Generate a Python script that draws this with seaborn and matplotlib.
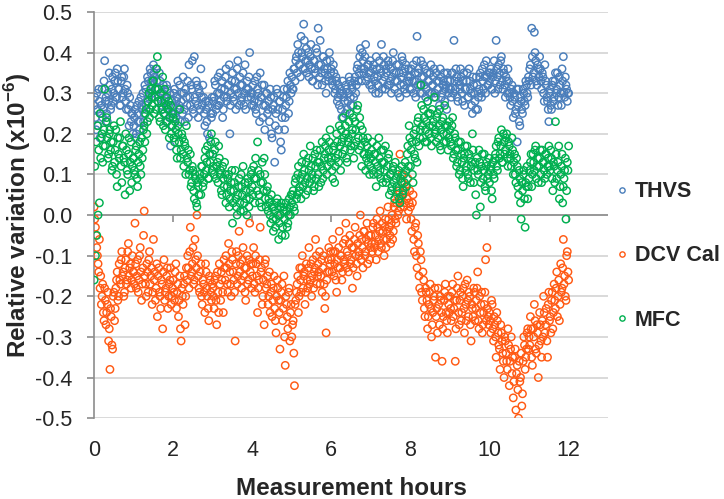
import numpy as np
import pandas as pd
import matplotlib
matplotlib.use('Agg')
import matplotlib.pyplot as plt
import seaborn as sns
from matplotlib.lines import Line2D

# relative variation (x10^-6), readings at even minutes (30 per hour) ...
thvs = [
    0.27, 0.24, 0.30, 0.22, 0.28, 0.25, 0.31, 0.26, 0.38, 0.29, 0.23, 0.28, 0.32, 0.27, 0.34, 0.30, 0.35, 0.29, 0.33, 0.31, 0.27, 0.34, 0.30, 0.36, 0.28, 0.32, 0.26, 0.29, 0.23, 0.25,
    0.22, 0.26, 0.20, 0.25, 0.28, 0.23, 0.27, 0.30, 0.25, 0.31, 0.28, 0.33, 0.30, 0.35, 0.32, 0.37, 0.34, 0.36, 0.31, 0.29, 0.33, 0.27, 0.30, 0.25, 0.29, 0.32, 0.26, 0.24, 0.17, 0.28,
    0.27, 0.31, 0.24, 0.29, 0.26, 0.32, 0.28, 0.25, 0.30, 0.23, 0.29, 0.33, 0.37, 0.27, 0.31, 0.26, 0.39, 0.28, 0.32, 0.24, 0.30, 0.36, 0.27, 0.29, 0.22, 0.26, 0.20, 0.28, 0.15, 0.24,
    0.25, 0.29, 0.32, 0.27, 0.34, 0.30, 0.28, 0.33, 0.26, 0.31, 0.36, 0.29, 0.32, 0.20, 0.30, 0.35, 0.28, 0.33, 0.31, 0.38, 0.27, 0.32, 0.29, 0.35, 0.30, 0.26, 0.33, 0.31, 0.40, 0.29,
    0.30, 0.27, 0.33, 0.25, 0.31, 0.28, 0.35, 0.29, 0.24, 0.32, 0.27, 0.30, 0.26, 0.23, 0.29, 0.19, 0.27, 0.13, 0.25, 0.30, 0.21, 0.28, 0.16, 0.26, 0.31, 0.24, 0.29, 0.33, 0.28, 0.32,
    0.34, 0.31, 0.36, 0.38, 0.35, 0.40, 0.37, 0.44, 0.39, 0.47, 0.36, 0.41, 0.38, 0.34, 0.39, 0.36, 0.33, 0.38, 0.35, 0.40, 0.46, 0.34, 0.37, 0.32, 0.39, 0.35, 0.30, 0.36, 0.33, 0.38,
    0.36, 0.32, 0.35, 0.31, 0.33, 0.29, 0.27, 0.31, 0.24, 0.30, 0.28, 0.32, 0.26, 0.30, 0.33, 0.27, 0.31, 0.29, 0.34, 0.32, 0.37, 0.35, 0.41, 0.33, 0.38, 0.36, 0.42, 0.34, 0.37, 0.32,
    0.35, 0.31, 0.37, 0.33, 0.39, 0.34, 0.30, 0.36, 0.42, 0.33, 0.37, 0.31, 0.35, 0.38, 0.32, 0.36, 0.34, 0.40, 0.31, 0.35, 0.33, 0.37, 0.29, 0.34, 0.38, 0.32, 0.36, 0.30, 0.34, 0.33,
    0.34, 0.31, 0.37, 0.33, 0.29, 0.44, 0.35, 0.32, 0.38, 0.30, 0.34, 0.36, 0.31, 0.28, 0.33, 0.35, 0.30, 0.32, 0.36, 0.29, 0.33, 0.31, 0.27, 0.34, 0.30, 0.33, 0.28, 0.32, 0.35, 0.30,
    0.33, 0.29, 0.35, 0.43, 0.31, 0.34, 0.28, 0.32, 0.36, 0.30, 0.33, 0.27, 0.31, 0.35, 0.29, 0.33, 0.30, 0.25, 0.32, 0.28, 0.34, 0.26, 0.31, 0.35, 0.29, 0.33, 0.37, 0.30, 0.34, 0.32,
    0.33, 0.36, 0.31, 0.35, 0.30, 0.43, 0.34, 0.37, 0.32, 0.39, 0.31, 0.35, 0.29, 0.33, 0.36, 0.30, 0.27, 0.32, 0.24, 0.29, 0.26, 0.18, 0.31, 0.22, 0.28, 0.25, 0.30, 0.27, 0.32, 0.29,
    0.33, 0.37, 0.46, 0.34, 0.45, 0.38, 0.32, 0.36, 0.39, 0.33, 0.35, 0.30, 0.37, 0.32, 0.28, 0.23, 0.31, 0.26, 0.33, 0.29, 0.35, 0.31, 0.27, 0.34, 0.30, 0.36, 0.39, 0.29, 0.32, 0.28,
    0.30,
]

dcv_cal = [
    0.02, -0.03, -0.08, -0.12, -0.06, -0.15, -0.20, -0.24, -0.18, -0.27, -0.22, -0.31, -0.38, -0.25, -0.33, -0.19, -0.23, -0.16, -0.21, -0.12, -0.17, -0.09, -0.14, -0.19, -0.11, -0.16, -0.07, -0.13, -0.18, -0.10,
    -0.14, -0.02, -0.18, -0.11, -0.16, -0.08, -0.21, -0.13, 0.01, -0.17, -0.12, -0.19, -0.09, -0.15, -0.22, -0.06, -0.14, -0.18, -0.25, -0.13, -0.20, -0.16, -0.28, -0.11, -0.19, -0.15, -0.23, -0.17, -0.13, -0.20,
    -0.16, -0.21, -0.12, -0.19, -0.25, -0.15, -0.31, -0.20, -0.17, -0.27, -0.13, -0.10, -0.18, -0.03, -0.14, -0.08, -0.16, -0.11, 0.00, -0.15, -0.19, -0.12, -0.22, -0.17, -0.24, -0.14, -0.20, -0.26, -0.16, -0.21,
    -0.18, -0.23, -0.15, -0.27, -0.19, -0.12, -0.21, -0.16, -0.24, -0.13, -0.10, -0.17, -0.07, -0.14, -0.20, -0.11, -0.16, -0.31, -0.09, -0.15, -0.04, -0.12, -0.18, -0.08, -0.13, -0.21, -0.10, -0.16, -0.02, -0.12,
    -0.15, -0.08, -0.19, -0.12, -0.24, -0.16, -0.03, -0.13, -0.20, -0.27, -0.11, -0.17, -0.22, -0.14, -0.19, -0.25, -0.18, -0.23, -0.29, -0.16, -0.21, -0.33, -0.19, -0.26, -0.15, -0.37, -0.22, -0.28, -0.18, -0.24,
    -0.30, -0.26, -0.42, -0.21, -0.17, -0.24, -0.13, -0.19, -0.10, -0.15, -0.22, -0.12, -0.18, -0.08, -0.16, -0.20, -0.11, -0.14, -0.06, -0.17, -0.12, -0.09, -0.15, -0.19, -0.10, -0.23, -0.29, -0.14, -0.08, -0.12,
    -0.11, -0.06, -0.15, -0.09, -0.19, -0.13, -0.04, -0.10, -0.16, -0.07, -0.12, -0.02, -0.09, -0.14, -0.05, -0.11, -0.18, -0.08, -0.03, -0.12, -0.07, -0.10, 0.00, -0.06, -0.13, -0.04, -0.09, -0.02, -0.07, -0.11,
    -0.05, -0.09, -0.02, -0.07, -0.11, -0.03, -0.06, 0.01, -0.08, -0.04, -0.10, -0.01, -0.06, 0.02, -0.03, -0.07, 0.00, -0.04, 0.03, -0.02, 0.05, 0.01, 0.15, 0.04, 0.08, 0.02, 0.06, -0.01, 0.09, 0.03,
    0.02, -0.04, 0.05, -0.09, -0.02, -0.13, -0.07, -0.18, -0.11, -0.21, -0.16, -0.25, -0.19, -0.28, -0.22, -0.17, -0.30, -0.24, -0.20, -0.35, -0.23, -0.18, -0.27, -0.21, -0.36, -0.25, -0.19, -0.24, -0.29, -0.22,
    -0.20, -0.26, -0.17, -0.23, -0.36, -0.21, -0.15, -0.27, -0.19, -0.24, -0.18, -0.29, -0.22, -0.16, -0.25, -0.20, -0.31, -0.23, -0.18, -0.26, -0.21, -0.14, -0.28, -0.24, -0.19, -0.27, -0.22, -0.11, -0.08, -0.25,
    -0.24, -0.29, -0.22, -0.31, -0.27, -0.35, -0.26, -0.32, -0.38, -0.29, -0.34, -0.40, -0.31, -0.36, -0.28, -0.42, -0.33, -0.39, -0.45, -0.35, -0.48, -0.37, -0.50, -0.41, -0.34, -0.44, -0.30, -0.38, -0.33, -0.28,
    -0.30, -0.25, -0.35, -0.28, -0.22, -0.33, -0.27, -0.40, -0.24, -0.31, -0.26, -0.20, -0.29, -0.23, -0.35, -0.19, -0.25, -0.21, -0.28, -0.17, -0.23, -0.14, -0.20, -0.26, -0.12, -0.18, -0.06, -0.15, -0.21, -0.09,
    -0.16,
]

mfc = [
    -0.16, -0.10, -0.05, 0.00, 0.03, 0.14, 0.20, 0.17, 0.31, 0.23, 0.19, 0.15, 0.21, 0.18, 0.12, 0.22, 0.16, 0.10, 0.19, 0.14, 0.23, 0.08, 0.17, 0.13, 0.20, 0.11, 0.15, 0.06, 0.18, 0.12,
    0.14, 0.10, 0.17, 0.07, 0.15, 0.12, 0.19, 0.16, 0.22, 0.25, 0.20, 0.28, 0.24, 0.31, 0.27, 0.33, 0.29, 0.26, 0.39, 0.31, 0.23, 0.28, 0.34, 0.25, 0.21, 0.29, 0.26, 0.19, 0.27, 0.22,
    0.24, 0.18, 0.21, 0.14, 0.20, 0.26, 0.16, 0.19, 0.12, 0.17, 0.22, 0.13, 0.10, 0.15, 0.08, 0.11, 0.04, 0.09, 0.02, 0.07, 0.10, 0.05, 0.12, 0.08, 0.14, 0.11, 0.17, 0.09, 0.13, 0.20,
    0.15, 0.10, 0.18, 0.12, 0.08, 0.14, 0.11, 0.05, 0.09, 0.13, 0.03, 0.07, 0.10, 0.04, 0.08, -0.02, 0.06, 0.11, 0.02, 0.05, 0.09, 0.01, 0.07, 0.12, 0.03, 0.06, 0.00, 0.08, 0.04, 0.10,
    0.07, 0.12, 0.03, 0.09, 0.18, 0.05, 0.10, 0.02, 0.08, 0.14, 0.04, 0.06, 0.01, 0.03, -0.02, 0.02, -0.04, 0.01, -0.01, 0.04, -0.06, 0.00, 0.03, -0.03, 0.02, -0.05, 0.01, -0.02, 0.04, 0.00,
    0.03, 0.06, 0.01, 0.09, 0.05, 0.12, 0.07, 0.04, 0.10, 0.15, 0.08, 0.13, 0.06, 0.11, 0.17, 0.09, 0.14, 0.07, 0.12, 0.16, 0.10, 0.13, 0.08, 0.18, 0.11, 0.15, 0.19, 0.12, 0.16, 0.21,
    0.14, 0.09, 0.17, 0.12, 0.20, 0.15, 0.22, 0.11, 0.18, 0.24, 0.16, 0.20, 0.13, 0.19, 0.25, 0.17, 0.21, 0.14, 0.23, 0.18, 0.27, 0.16, 0.22, 0.12, 0.19, 0.15, 0.11, 0.17, 0.13, 0.10,
    0.14, 0.18, 0.10, 0.15, 0.07, 0.12, 0.19, 0.11, 0.16, 0.08, 0.13, 0.17, 0.09, 0.14, 0.05, 0.10, 0.07, 0.12, 0.04, 0.09, 0.06, 0.11, 0.03, 0.08, 0.05, 0.10, 0.13, 0.07, 0.17, 0.22,
    0.12, 0.18, 0.08, 0.15, 0.21, 0.13, 0.24, 0.19, 0.32, 0.22, 0.26, 0.18, 0.23, 0.28, 0.20, 0.25, 0.17, 0.22, 0.29, 0.21, 0.24, 0.19, 0.26, 0.16, 0.23, 0.20, 0.27, 0.18, 0.22, 0.19,
    0.21, 0.17, 0.24, 0.15, 0.19, 0.12, 0.16, 0.10, 0.18, 0.13, 0.07, 0.15, 0.11, 0.17, 0.09, 0.14, 0.12, 0.20, 0.08, 0.13, 0.00, 0.11, 0.16, 0.02, 0.12, 0.09, 0.15, 0.06, 0.13, 0.10,
    0.08, 0.12, 0.04, 0.10, 0.14, 0.17, 0.11, 0.19, 0.15, 0.21, 0.13, 0.18, 0.16, 0.20, 0.12, 0.17, 0.14, 0.19, 0.10, 0.15, 0.08, 0.12, 0.05, 0.09, -0.01, 0.06, 0.11, -0.03, 0.07, 0.04,
    0.09, 0.13, 0.07, 0.15, 0.11, 0.17, 0.12, 0.08, 0.14, 0.10, 0.16, 0.13, 0.09, 0.15, 0.12, 0.17, 0.11, 0.14, 0.06, 0.12, 0.23, 0.09, 0.13, 0.04, 0.10, 0.15, 0.07, 0.11, -0.01, 0.13,
    0.17,
]

# ... and readings at odd minutes
thvs_odd = [
    0.29, 0.21, 0.26, 0.31, 0.19, 0.27, 0.24, 0.33, 0.28, 0.25, 0.30, 0.35, 0.26, 0.31, 0.28, 0.33, 0.29, 0.36, 0.31, 0.27, 0.33, 0.29, 0.34, 0.31, 0.26, 0.30, 0.22, 0.27, 0.25, 0.20,
    0.24, 0.19, 0.27, 0.23, 0.21, 0.29, 0.26, 0.23, 0.32, 0.27, 0.34, 0.29, 0.36, 0.33, 0.30, 0.35, 0.31, 0.33, 0.28, 0.35, 0.30, 0.26, 0.32, 0.28, 0.23, 0.31, 0.27, 0.30, 0.25, 0.22,
    0.30, 0.25, 0.28, 0.33, 0.27, 0.23, 0.30, 0.34, 0.26, 0.31, 0.27, 0.24, 0.29, 0.32, 0.38, 0.25, 0.29, 0.33, 0.27, 0.31, 0.26, 0.29, 0.32, 0.25, 0.28, 0.23, 0.27, 0.19, 0.25, 0.29,
    0.28, 0.33, 0.26, 0.30, 0.27, 0.35, 0.31, 0.24, 0.29, 0.34, 0.28, 0.32, 0.37, 0.27, 0.33, 0.29, 0.31, 0.26, 0.36, 0.30, 0.34, 0.28, 0.32, 0.27, 0.37, 0.31, 0.29, 0.34, 0.30, 0.27,
    0.32, 0.28, 0.26, 0.34, 0.30, 0.23, 0.29, 0.32, 0.27, 0.21, 0.30, 0.25, 0.28, 0.31, 0.20, 0.26, 0.29, 0.22, 0.31, 0.26, 0.28, 0.18, 0.24, 0.29, 0.21, 0.27, 0.31, 0.25, 0.35, 0.30,
    0.31, 0.36, 0.33, 0.39, 0.42, 0.37, 0.34, 0.40, 0.36, 0.43, 0.38, 0.35, 0.40, 0.37, 0.42, 0.33, 0.38, 0.36, 0.41, 0.32, 0.37, 0.43, 0.35, 0.39, 0.36, 0.33, 0.38, 0.34, 0.40, 0.35,
    0.33, 0.37, 0.30, 0.34, 0.28, 0.32, 0.30, 0.26, 0.33, 0.29, 0.25, 0.31, 0.28, 0.34, 0.29, 0.32, 0.27, 0.33, 0.30, 0.36, 0.33, 0.39, 0.36, 0.40, 0.35, 0.39, 0.33, 0.37, 0.35, 0.38,
    0.32, 0.36, 0.34, 0.30, 0.36, 0.32, 0.38, 0.35, 0.31, 0.39, 0.34, 0.36, 0.32, 0.37, 0.33, 0.30, 0.38, 0.35, 0.33, 0.37, 0.30, 0.35, 0.32, 0.39, 0.35, 0.31, 0.37, 0.33, 0.36, 0.31,
    0.36, 0.33, 0.30, 0.35, 0.38, 0.32, 0.36, 0.30, 0.34, 0.37, 0.32, 0.29, 0.35, 0.33, 0.30, 0.37, 0.32, 0.34, 0.30, 0.35, 0.31, 0.33, 0.36, 0.29, 0.32, 0.35, 0.31, 0.26, 0.33, 0.31,
    0.31, 0.35, 0.30, 0.33, 0.36, 0.29, 0.33, 0.31, 0.34, 0.28, 0.35, 0.31, 0.33, 0.29, 0.36, 0.31, 0.27, 0.34, 0.30, 0.26, 0.32, 0.29, 0.34, 0.30, 0.36, 0.31, 0.34, 0.38, 0.32, 0.35,
    0.35, 0.31, 0.34, 0.38, 0.33, 0.36, 0.31, 0.35, 0.38, 0.33, 0.36, 0.32, 0.34, 0.30, 0.33, 0.29, 0.31, 0.28, 0.30, 0.25, 0.31, 0.27, 0.23, 0.29, 0.26, 0.31, 0.28, 0.33, 0.30, 0.34,
    0.36, 0.32, 0.39, 0.35, 0.40, 0.33, 0.37, 0.34, 0.36, 0.31, 0.34, 0.28, 0.33, 0.29, 0.26, 0.30, 0.27, 0.32, 0.28, 0.33, 0.30, 0.35, 0.29, 0.32, 0.27, 0.33, 0.30, 0.34, 0.31, 0.30,
]

dcv_cal_odd = [
    -0.01, -0.05, -0.10, -0.14, -0.18, -0.22, -0.17, -0.26, -0.21, -0.24, -0.19, -0.28, -0.23, -0.32, -0.20, -0.26, -0.18, -0.14, -0.20, -0.16, -0.11, -0.15, -0.20, -0.13, -0.17, -0.09, -0.15, -0.12, -0.16, -0.14,
    -0.17, -0.12, -0.15, -0.19, -0.10, -0.14, -0.17, -0.05, -0.15, -0.20, -0.14, -0.11, -0.17, -0.13, -0.19, -0.16, -0.21, -0.12, -0.15, -0.19, -0.23, -0.17, -0.14, -0.21, -0.18, -0.13, -0.20, -0.16, -0.22, -0.18,
    -0.19, -0.14, -0.23, -0.17, -0.21, -0.28, -0.18, -0.22, -0.15, -0.20, -0.16, -0.13, -0.09, -0.15, -0.12, -0.17, -0.06, -0.13, -0.10, -0.18, -0.14, -0.20, -0.16, -0.19, -0.12, -0.18, -0.23, -0.15, -0.19, -0.17,
    -0.20, -0.16, -0.21, -0.14, -0.24, -0.17, -0.14, -0.19, -0.11, -0.16, -0.13, -0.19, -0.12, -0.17, -0.09, -0.14, -0.19, -0.12, -0.17, -0.10, -0.14, -0.16, -0.11, -0.15, -0.19, -0.13, -0.17, -0.11, -0.14, -0.18,
    -0.12, -0.17, -0.10, -0.15, -0.18, -0.11, -0.14, -0.22, -0.16, -0.12, -0.18, -0.15, -0.20, -0.24, -0.17, -0.21, -0.15, -0.26, -0.20, -0.18, -0.24, -0.21, -0.17, -0.23, -0.30, -0.20, -0.25, -0.19, -0.31, -0.22,
    -0.27, -0.34, -0.22, -0.19, -0.15, -0.20, -0.16, -0.13, -0.18, -0.14, -0.19, -0.16, -0.13, -0.17, -0.12, -0.15, -0.18, -0.13, -0.10, -0.15, -0.14, -0.17, -0.11, -0.13, -0.17, -0.20, -0.16, -0.11, -0.14, -0.09,
    -0.14, -0.09, -0.12, -0.16, -0.11, -0.08, -0.13, -0.10, -0.14, -0.11, -0.06, -0.13, -0.10, -0.07, -0.12, -0.08, -0.13, -0.06, -0.10, -0.15, -0.09, -0.05, -0.11, -0.08, -0.04, -0.10, -0.06, -0.12, -0.05, -0.08,
    -0.07, -0.03, -0.08, -0.05, -0.01, -0.09, -0.04, -0.07, -0.02, -0.06, -0.03, -0.08, -0.04, -0.01, -0.05, -0.02, -0.06, 0.02, -0.01, 0.03, 0.00, 0.06, 0.02, 0.10, 0.05, 0.03, 0.07, 0.04, 0.01, 0.06,
    -0.01, 0.03, -0.06, -0.03, -0.10, -0.05, -0.15, -0.09, -0.19, -0.14, -0.23, -0.18, -0.21, -0.25, -0.19, -0.23, -0.27, -0.21, -0.18, -0.25, -0.29, -0.22, -0.20, -0.24, -0.28, -0.21, -0.17, -0.26, -0.20, -0.24,
    -0.23, -0.19, -0.25, -0.21, -0.28, -0.18, -0.24, -0.21, -0.26, -0.20, -0.23, -0.17, -0.26, -0.21, -0.19, -0.27, -0.22, -0.25, -0.19, -0.23, -0.18, -0.26, -0.20, -0.22, -0.29, -0.24, -0.19, -0.26, -0.23, -0.27,
    -0.26, -0.21, -0.28, -0.25, -0.30, -0.24, -0.29, -0.33, -0.27, -0.31, -0.36, -0.30, -0.34, -0.38, -0.32, -0.36, -0.30, -0.35, -0.41, -0.33, -0.39, -0.43, -0.36, -0.40, -0.47, -0.36, -0.32, -0.35, -0.29, -0.33,
    -0.32, -0.28, -0.37, -0.30, -0.26, -0.34, -0.29, -0.32, -0.27, -0.35, -0.30, -0.24, -0.27, -0.31, -0.22, -0.26, -0.29, -0.19, -0.24, -0.21, -0.18, -0.25, -0.16, -0.22, -0.19, -0.13, -0.17, -0.20, -0.10, -0.14,
]

mfc_odd = [
    0.12, 0.18, 0.22, 0.16, 0.25, 0.19, 0.13, 0.21, 0.17, 0.24, 0.14, 0.20, 0.16, 0.11, 0.18, 0.13, 0.21, 0.07, 0.15, 0.19, 0.12, 0.17, 0.14, 0.05, 0.16, 0.10, 0.19, 0.13, 0.08, 0.14,
    0.11, 0.16, 0.09, 0.13, 0.18, 0.10, 0.14, 0.21, 0.18, 0.26, 0.23, 0.30, 0.26, 0.29, 0.33, 0.25, 0.31, 0.36, 0.28, 0.24, 0.30, 0.26, 0.22, 0.31, 0.27, 0.23, 0.28, 0.24, 0.20, 0.25,
    0.19, 0.23, 0.16, 0.22, 0.18, 0.14, 0.20, 0.15, 0.18, 0.10, 0.14, 0.16, 0.11, 0.07, 0.12, 0.06, 0.10, 0.03, 0.08, 0.05, 0.09, 0.12, 0.07, 0.10, 0.16, 0.13, 0.09, 0.15, 0.18, 0.11,
    0.12, 0.16, 0.09, 0.13, 0.17, 0.10, 0.06, 0.12, 0.07, 0.10, 0.05, 0.09, 0.02, 0.06, 0.11, 0.03, 0.08, 0.04, 0.00, 0.07, 0.03, 0.10, 0.05, 0.01, 0.08, 0.04, 0.09, 0.02, 0.06, 0.11,
    0.05, 0.09, 0.14, 0.06, 0.11, 0.03, 0.08, 0.13, 0.06, 0.10, 0.02, 0.07, 0.04, 0.00, 0.05, -0.01, 0.02, -0.03, 0.03, 0.00, -0.02, 0.02, -0.05, 0.01, -0.01, 0.03, -0.03, 0.00, 0.02, 0.05,
    0.05, 0.02, 0.08, 0.04, 0.10, 0.06, 0.09, 0.13, 0.07, 0.11, 0.05, 0.09, 0.14, 0.08, 0.12, 0.10, 0.06, 0.15, 0.09, 0.13, 0.07, 0.16, 0.12, 0.09, 0.14, 0.17, 0.10, 0.14, 0.18, 0.13,
    0.11, 0.16, 0.08, 0.14, 0.18, 0.13, 0.17, 0.21, 0.15, 0.19, 0.22, 0.14, 0.18, 0.23, 0.16, 0.20, 0.24, 0.17, 0.21, 0.26, 0.19, 0.24, 0.17, 0.21, 0.15, 0.18, 0.14, 0.19, 0.15, 0.12,
    0.16, 0.11, 0.15, 0.13, 0.17, 0.10, 0.14, 0.09, 0.13, 0.16, 0.11, 0.08, 0.12, 0.15, 0.10, 0.06, 0.11, 0.08, 0.13, 0.07, 0.10, 0.04, 0.09, 0.12, 0.06, 0.08, 0.11, 0.15, 0.12, 0.19,
    0.16, 0.10, 0.20, 0.14, 0.18, 0.23, 0.17, 0.21, 0.27, 0.19, 0.24, 0.21, 0.18, 0.25, 0.22, 0.19, 0.26, 0.23, 0.20, 0.18, 0.25, 0.22, 0.17, 0.21, 0.24, 0.18, 0.22, 0.20, 0.16, 0.23,
    0.18, 0.22, 0.14, 0.20, 0.16, 0.13, 0.18, 0.11, 0.15, 0.09, 0.14, 0.17, 0.12, 0.10, 0.15, 0.08, 0.13, 0.16, 0.11, 0.05, 0.14, 0.10, 0.13, 0.08, 0.15, 0.11, 0.07, 0.12, 0.09, 0.14,
    0.11, 0.06, 0.13, 0.09, 0.15, 0.12, 0.18, 0.14, 0.17, 0.13, 0.20, 0.15, 0.19, 0.14, 0.18, 0.15, 0.12, 0.16, 0.13, 0.10, 0.14, 0.07, 0.11, 0.03, 0.08, 0.10, 0.04, 0.08, 0.12, 0.07,
    0.11, 0.15, 0.10, 0.13, 0.16, 0.09, 0.14, 0.12, 0.16, 0.08, 0.13, 0.11, 0.15, 0.10, 0.14, 0.12, 0.16, 0.09, 0.13, 0.08, 0.15, 0.11, 0.17, 0.07, 0.12, 0.03, 0.09, 0.14, 0.06, 0.11,
]

series_names = ['THVS', 'DCV Cal', 'MFC']
series_colors = ['#4A7EBB', '#FF5A14', '#00B050']
x_ticks = [0, 2, 4, 6, 8, 10, 12]
y_ticks = [-0.5, -0.4, -0.3, -0.2, -0.1, 0.0, 0.1, 0.2, 0.3, 0.4, 0.5]

frames = []
for name, even, odd in zip(series_names, [thvs, dcv_cal, mfc], [thvs_odd, dcv_cal_odd, mfc_odd]):
    h_even = np.arange(len(even)) / 30          # minute 0, 2, 4, ...
    h_odd = (np.arange(len(odd)) + 0.5) / 30    # minute 1, 3, 5, ...
    frames.append(pd.DataFrame({'hours': np.concatenate([h_even, h_odd]),
                                'value': even + odd, 'series': name}))
df = pd.concat(frames)

sns.set_style('white')
plt.rcParams['font.family'] = ['Liberation Sans', 'DejaVu Sans']
plt.rcParams['axes.unicode_minus'] = False
plt.rcParams['mathtext.fontset'] = 'custom'
plt.rcParams['mathtext.bf'] = 'Liberation Sans:bold'
plt.rcParams['mathtext.rm'] = 'Liberation Sans'

fig = plt.figure(figsize=(7.24, 4.99), dpi=100)
ax = fig.add_axes([0.130, 0.162, 0.710, 0.814])

sns.scatterplot(data=df, x='hours', y='value', hue='series',
                palette=dict(zip(series_names, series_colors)),
                s=28, linewidth=1.05, legend=False, ax=ax, zorder=3)
# open circles
coll = ax.collections[0]
fc = coll.get_facecolors()
coll.set_edgecolors(fc)
coll.set_facecolors('none')

ax.set_xlim(0, 13)
ax.set_ylim(-0.5, 0.5)
ax.set_yticks(y_ticks)
ax.yaxis.set_major_formatter('{x:.1f}')
ax.set_xticks(x_ticks)

ax.yaxis.grid(True, color='#D9D9D9', linewidth=1.4)
ax.xaxis.grid(False)
ax.set_axisbelow(True)

for side in ['top', 'right', 'bottom']:
    ax.spines[side].set_visible(False)
ax.spines['left'].set_color('#8C8C8C')
ax.spines['left'].set_linewidth(1.2)

ax.tick_params(axis='y', direction='out', length=5, width=1.2, color='#8C8C8C',
               labelsize=15.5, pad=11, left=True)
ax.tick_params(axis='x', length=0, labelsize=15.5, pad=16)

# horizontal axis crosses at zero, tick marks hang below it
ax.axhline(0, color='#8C8C8C', linewidth=1.2, zorder=2)
ax.plot(x_ticks, [0] * len(x_ticks), linestyle='none', marker=3, markersize=5,
        markeredgewidth=1.2, color='#8C8C8C', zorder=2, clip_on=False)

ax.set_xlabel('Measurement hours', fontsize=17.5, fontweight='bold', labelpad=11)
ax.set_ylabel(r'Relative variation (x10$^{\mathbf{-6}}$)', fontsize=17.5,
              fontweight='bold', labelpad=1)

handles = [Line2D([], [], linestyle='none', marker='o', markersize=3.8,
                  markerfacecolor='none', markeredgecolor=c, markeredgewidth=1.0, label=n)
           for n, c in zip(series_names, series_colors)]
fig.legend(handles=handles, loc='center left', bbox_to_anchor=(0.82, 0.487),
           frameon=False, prop={'size': 15.5, 'weight': 'bold'},
           labelspacing=2.0, handletextpad=0.2, handlelength=0.8, borderpad=0.4)

fig.savefig('out.png', dpi=100)
